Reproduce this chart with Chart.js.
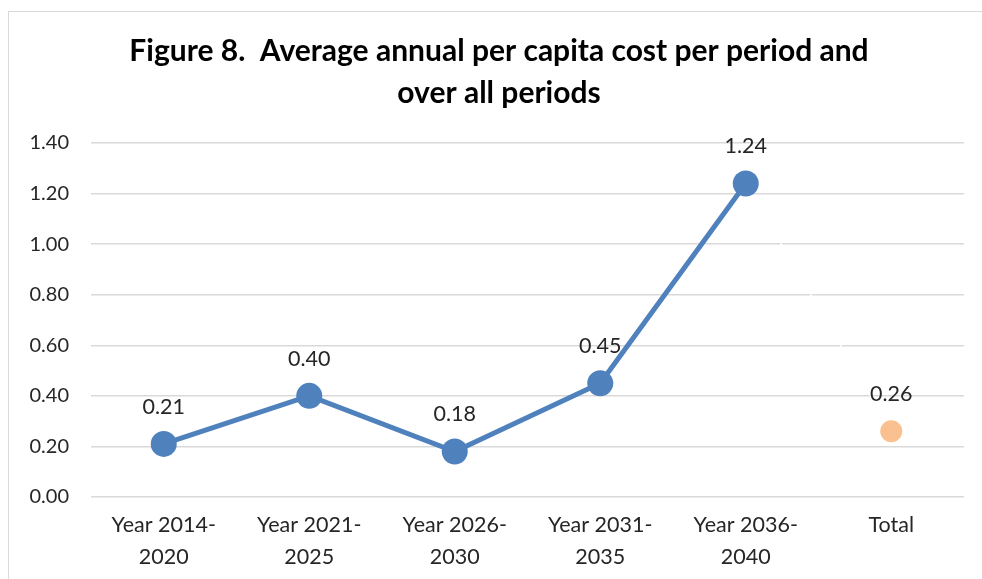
<!DOCTYPE html>
<html>
<head>
<meta charset="utf-8">
<script src="https://cdn.jsdelivr.net/npm/chart.js@4.4.1/dist/chart.umd.min.js"></script>
<style>
  html, body { margin: 0; padding: 0; background: #fff; }
  #wrap {
    position: absolute; left: 8px; top: 11px;
    width: 990px; height: 580px;
    border: 1px solid #d9d9d9; box-sizing: border-box;
  }
  canvas { display: block; }
</style>
</head>
<body>
<div id="wrap"><canvas id="chart" width="980" height="568"></canvas></div>
<script>
// ---- data ----
const periods = [
  ["Year 2014-", "2020"],
  ["Year 2021-", "2025"],
  ["Year 2026-", "2030"],
  ["Year 2031-", "2035"],
  ["Year 2036-", "2040"],
  ["Total"]
];
const costValues = [0.21, 0.40, 0.18, 0.45, 1.24, 0.26];
const yTicks = [0, 0.2, 0.4, 0.6, 0.8, 1.0, 1.2, 1.4];

const BLUE = "#4F81BD";
const ORANGE = "#FAC090";
const FONT = "Lato, 'Open Sans', sans-serif";

// data labels above each point
const valueLabels = {
  id: "valueLabels",
  afterDatasetsDraw(chart) {
    const ctx = chart.ctx;
    const meta = chart.getDatasetMeta(0);
    ctx.save();
    ctx.font = "21.5px " + FONT;
    ctx.fillStyle = "#262626";
    ctx.textAlign = "center";
    ctx.textBaseline = "middle";
    meta.data.forEach((pt, i) => {
      ctx.fillText(costValues[i].toFixed(2), pt.x, pt.y - 37);
    });
    ctx.restore();
  }
};

const chart = new Chart(document.getElementById("chart"), {
  type: "line",
  data: {
    labels: periods,
    datasets: [{
      data: costValues,
      borderColor: BLUE,
      borderWidth: 5,
      pointRadius: costValues.map((v, i) => i === 5 ? 11 : 13),
      pointBackgroundColor: costValues.map((v, i) => i === 5 ? ORANGE : BLUE),
      pointBorderWidth: 0,
      pointHoverRadius: 13,
      tension: 0,
      segment: {
        // last segment is white in the original, only visible over gridlines
        borderColor: c => c.p1DataIndex === 5 ? "#ffffff" : BLUE,
        borderWidth: c => c.p1DataIndex === 5 ? 1.5 : 5
      }
    }]
  },
  options: {
    responsive: false,
    animation: false,
    layout: { padding: { left: 0, right: 0, top: 0, bottom: 0 } },
    plugins: {
      legend: { display: false },
      tooltip: { enabled: false },
      title: {
        display: true,
        text: ["Figure 8.  Average annual per capita cost per period and", "over all periods"],
        color: "#000",
        font: { family: FONT, size: 30, weight: "bold", lineHeight: 1.4 },
        padding: { top: 18, bottom: 29 }
      }
    },
    scales: {
      x: {
        offset: true,
        grid: { display: false },
        border: { display: false },
        afterFit: axis => { axis.height = 83; },
        ticks: {
          color: "#262626",
          font: { family: FONT, size: 21.5, lineHeight: 1.49 },
          maxRotation: 0,
          padding: 4
        }
      },
      y: {
        min: 0, max: 1.4,
        afterBuildTicks: axis => { axis.ticks = yTicks.map(v => ({ value: v })); },
        afterFit: axis => { axis.width = 82; },
        grid: { color: "#d9d9d9", lineWidth: 1.5, drawTicks: false },
        border: { display: false },
        ticks: {
          color: "#262626",
          font: { family: FONT, size: 20 },
          padding: 22,
          callback: v => v.toFixed(2)
        }
      },
      // empty right-hand spacer so the plot ends short of the frame
      yRight: {
        position: "right",
        min: 0, max: 1.4,
        grid: { display: false },
        border: { display: false },
        ticks: { display: false },
        afterFit: axis => { axis.width = 25; }
      }
    }
  },
  plugins: [valueLabels]
});
</script>
</body>
</html>
